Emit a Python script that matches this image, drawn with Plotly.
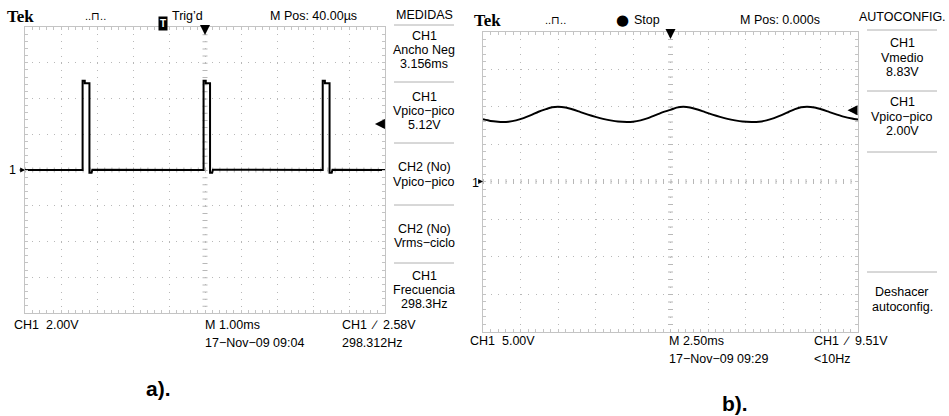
import plotly.graph_objects as go

W, H = 949, 416

# ---------------- data: scope a) pulse train (ms, V) ----------------
pulse_t = [-5.0, -3.40, -3.40, -3.34, -3.34, -3.21, -3.21, -3.15, -3.13,
           -0.04, -0.04, 0.02, 0.02, 0.14, 0.14, 0.20, 0.22,
           3.27, 3.27, 3.33, 3.33, 3.46, 3.46, 3.52, 3.54, 5.0]
pulse_v = [0.0, 0.0, 5.0, 5.0, 4.85, 4.85, -0.15, -0.15, 0.02,
           0.0, 5.0, 5.0, 4.85, 4.85, -0.15, -0.15, 0.02,
           0.0, 5.0, 5.0, 4.85, 4.85, -0.15, -0.15, 0.02, 0.0]

# ---------------- data: scope b) ripple (ms, V) ----------------
ripple_t = [-12.5, -12.0, -11.5, -11.2, -10.8, -10.3, -9.8, -9.3, -8.8, -8.3, -7.9, -7.5,
            -7.0, -6.5, -6.0, -5.5, -5.0, -4.5, -4.0, -3.5, -2.9, -2.5, -2.0, -1.5, -1.0,
            -0.5, 0.0, 0.4, 0.85, 1.3, 1.8, 2.3, 2.8, 3.3, 3.8, 4.3, 4.8, 5.4, 5.9, 6.4,
            6.9, 7.4, 7.9, 8.3, 8.7, 9.1, 9.6, 10.1, 10.6, 11.1, 11.6, 12.1, 12.5]
ripple_v = [8.30, 8.08, 7.98, 7.95, 7.98, 8.15, 8.45, 8.85, 9.30, 9.65, 9.90, 9.98,
            9.88, 9.60, 9.25, 8.92, 8.62, 8.35, 8.15, 8.00, 7.95, 7.98, 8.15, 8.45, 8.85,
            9.25, 9.55, 9.85, 9.98, 9.88, 9.60, 9.25, 8.92, 8.62, 8.35, 8.15, 8.00, 7.95, 7.98, 8.15,
            8.45, 8.85, 9.30, 9.65, 9.90, 9.98, 9.88, 9.60, 9.25, 8.92, 8.62, 8.40, 8.25]

# scope settings
a_trig_level = 2.58
b_trig_level = 9.51

meas_a = [["CH1", "Ancho Neg", "3.156ms"], ["CH1", "Vpico−pico", "5.12V"],
          ["CH2 (No)", "Vpico−pico"], ["CH2 (No)", "Vrms−ciclo"],
          ["CH1", "Frecuencia", "298.3Hz"]]
meas_b = [["CH1", "Vmedio", "8.83V"], ["CH1", "Vpico−pico", "2.00V"]]

# ---------------- helpers ----------------
def px(x):
    return x / W

def py(y):
    return 1 - y / H

FONT = "Liberation Sans, Arial, sans-serif"
FS = 12.5
GRID = "#b8b8b8"
BORDER = "#c4c4c4"

fig = go.Figure()
fig.add_trace(go.Scatter(x=pulse_t, y=pulse_v, mode="lines",
                         line=dict(color="black", width=2), xaxis="x", yaxis="y",
                         hoverinfo="skip"))
fig.add_trace(go.Scatter(x=ripple_t, y=ripple_v, mode="lines",
                         line=dict(color="black", width=2, shape="spline", smoothing=0.6),
                         xaxis="x2", yaxis="y2", hoverinfo="skip"))

def axis(domain, rng, dtick, mdtick, dash, anchor):
    return dict(domain=domain, range=rng, dtick=dtick, tick0=0, showgrid=True,
                gridcolor=GRID, gridwidth=1, griddash=dash, zeroline=False,
                showline=True, linecolor=BORDER, linewidth=1, mirror="allticks",
                ticks="inside", ticklen=3, tickcolor=BORDER, showticklabels=False,
                minor=dict(dtick=mdtick, tick0=0, ticks="inside", ticklen=3,
                           tickcolor=BORDER, showgrid=False),
                anchor=anchor, fixedrange=True)

# scope geometry (pixels)
aL, aR, aT, aB = 25, 385, 27, 313
bL, bR, bT, bB = 483, 858, 31.5, 331.5

layout = dict(
    width=W, height=H, margin=dict(l=0, r=0, t=0, b=0),
    paper_bgcolor="white", plot_bgcolor="white", showlegend=False,
    xaxis=axis([px(aL), px(aR)], [-5, 5], 1, 0.2, "1px,%.2fpx" % ((aB - aT) / 40 - 1), "y"),
    yaxis=axis([py(aB), py(aT)], [-8, 8], 2, 0.4, "1px,%.2fpx" % ((aR - aL) / 50 - 1), "x"),
    xaxis2=axis([px(bL), px(bR)], [-12.5, 12.5], 2.5, 0.5, "1px,%.2fpx" % ((bB - bT) / 40 - 1), "y2"),
    yaxis2=axis([py(bB), py(bT)], [-20, 20], 5, 1, "1px,%.2fpx" % ((bR - bL) / 50 - 1), "x2"),
)
fig.update_layout(**layout)

shapes = []
# center crosshair tick marks
shapes.append(dict(type="line", xref="x", yref="y", x0=0, x1=0, y0=8, y1=-8,
                   line=dict(color=GRID, width=5, dash="1px,%.2fpx" % ((aB - aT) / 40 - 1)), layer="below"))
shapes.append(dict(type="line", xref="x", yref="y", x0=-5, x1=5, y0=0, y1=0,
                   line=dict(color=GRID, width=5, dash="1px,%.2fpx" % ((aR - aL) / 50 - 1)), layer="below"))
shapes.append(dict(type="line", xref="x2", yref="y2", x0=0, x1=0, y0=20, y1=-20,
                   line=dict(color=GRID, width=5, dash="1px,%.2fpx" % ((bB - bT) / 40 - 1)), layer="below"))
shapes.append(dict(type="line", xref="x2", yref="y2", x0=-12.5, x1=12.5, y0=0, y1=0,
                   line=dict(color=GRID, width=5, dash="1px,%.2fpx" % ((bR - bL) / 50 - 1)), layer="below"))

def hline(x0, x1, y):
    shapes.append(dict(type="line", xref="paper", yref="paper", x0=px(x0), x1=px(x1),
                       y0=py(y), y1=py(y), line=dict(color="#b0b0b0", width=1)))

for y in [25, 82, 143, 205, 263]:
    hline(394, 454, y)
for y in [30, 91, 152, 272]:
    hline(867, 937, y)
fig.update_layout(shapes=shapes)

ann = []
def txt(x, y, s, size=FS, anchor="left", family=FONT, color="black", bold=False, **kw):
    if bold:
        s = "<b>%s</b>" % s
    ann.append(dict(x=px(x), y=py(y), xref="paper", yref="paper", text=s, showarrow=False,
                    xanchor=anchor, yanchor="middle", font=dict(size=size, family=family, color=color), **kw))

SERIF = "Liberation Serif, DejaVu Serif, serif"
SP = "&nbsp;"
# top bars
txt(5, 17, "Tek", size=17, family=SERIF, bold=True)
txt(95, 16, "..⊓..", size=11, anchor="center")
ann.append(dict(x=px(157.5), y=py(16), xref="paper", yref="paper", text="<b>T</b>", showarrow=False,
                font=dict(size=10, family=FONT, color="white"), bgcolor="black", borderpad=1))
txt(170, 16, "Trig’d")
txt(268, 16, "M Pos: 40.00µs")
txt(424, 15, "MEDIDAS", anchor="center")

txt(472, 20, "Tek", size=17, family=SERIF, bold=True)
txt(555, 20, "..⊓..", size=11, anchor="center")
txt(622, 20, "●", size=15, anchor="center", family="DejaVu Sans, sans-serif")
txt(632, 20, "Stop")
txt(738, 20, "M Pos: 0.000s")
txt(902, 17, "AUTOCONFIG.", anchor="center")

# measurement panels
ys_a = [[36, 50, 64], [97, 111, 125], [167, 182], [229, 243], [276, 290, 304]]
for lines, ys in zip(meas_a, ys_a):
    for s, y in zip(lines, ys):
        txt(424, y, s, anchor="center")
ys_b = [[43, 58, 72], [102, 117, 131]]
for lines, ys in zip(meas_b, ys_b):
    for s, y in zip(lines, ys):
        txt(902, y, s, anchor="center")
txt(902, 292, "Deshacer", anchor="center")
txt(902, 307, "autoconfig.", anchor="center")

# bottom rows
txt(12, 325, "CH1" + SP * 2 + "2.00V")
txt(203, 325, "M 1.00ms")
txt(340, 325, "CH1 ∕ 2.58V".replace(" ", SP * 2))
txt(203, 343, "17−Nov−09 09:04")
txt(340, 343, "298.312Hz")
txt(468, 341, "CH1" + SP * 2 + "5.00V")
txt(667, 341, "M 2.50ms")
txt(812, 341, "CH1 ∕ 9.51V".replace(" ", SP * 2))
txt(667, 359, "17−Nov−09 09:29")
txt(812, 359, "&lt;10Hz")

# figure labels
txt(158, 388, "a).", size=21, anchor="center", bold=True)
txt(735, 403, "b).", size=21, anchor="center", bold=True)

# ground markers
txt(12, 170, "1", anchor="center")
txt(475, 183, "1", anchor="center")
ann.append(dict(x=-5, y=0, xref="x", yref="y", ax=-7, ay=0, showarrow=True, arrowhead=2,
                arrowsize=0.8, arrowwidth=1.2, arrowcolor="black", text=""))
ann.append(dict(x=-12.5, y=0, xref="x2", yref="y2", ax=-6, ay=0, showarrow=True, arrowhead=2,
                arrowsize=0.8, arrowwidth=1.2, arrowcolor="black", text=""))

# trigger position arrows (top) and trigger level arrows (right)
ann.append(dict(x=0, y=py(35), xref="x", yref="paper", ax=0, ay=-9, showarrow=True, arrowhead=2,
                arrowsize=1, arrowwidth=2, arrowcolor="black", text=""))
ann.append(dict(x=0, y=py(39), xref="x2", yref="paper", ax=0, ay=-9, showarrow=True, arrowhead=2,
                arrowsize=1, arrowwidth=2, arrowcolor="black", text=""))
ann.append(dict(x=4.72, y=a_trig_level, xref="x", yref="y", ax=8, ay=0, showarrow=True, arrowhead=2,
                arrowsize=1, arrowwidth=2, arrowcolor="black", text=""))
ann.append(dict(x=11.8, y=b_trig_level, xref="x2", yref="y2", ax=8, ay=0, showarrow=True, arrowhead=2,
                arrowsize=1, arrowwidth=2, arrowcolor="black", text=""))

fig.update_layout(annotations=ann)
fig.write_html("out.html", config={"displayModeBar": False, "staticPlot": True},
               post_script="document.body.style.margin='0';document.body.style.padding='0';")
